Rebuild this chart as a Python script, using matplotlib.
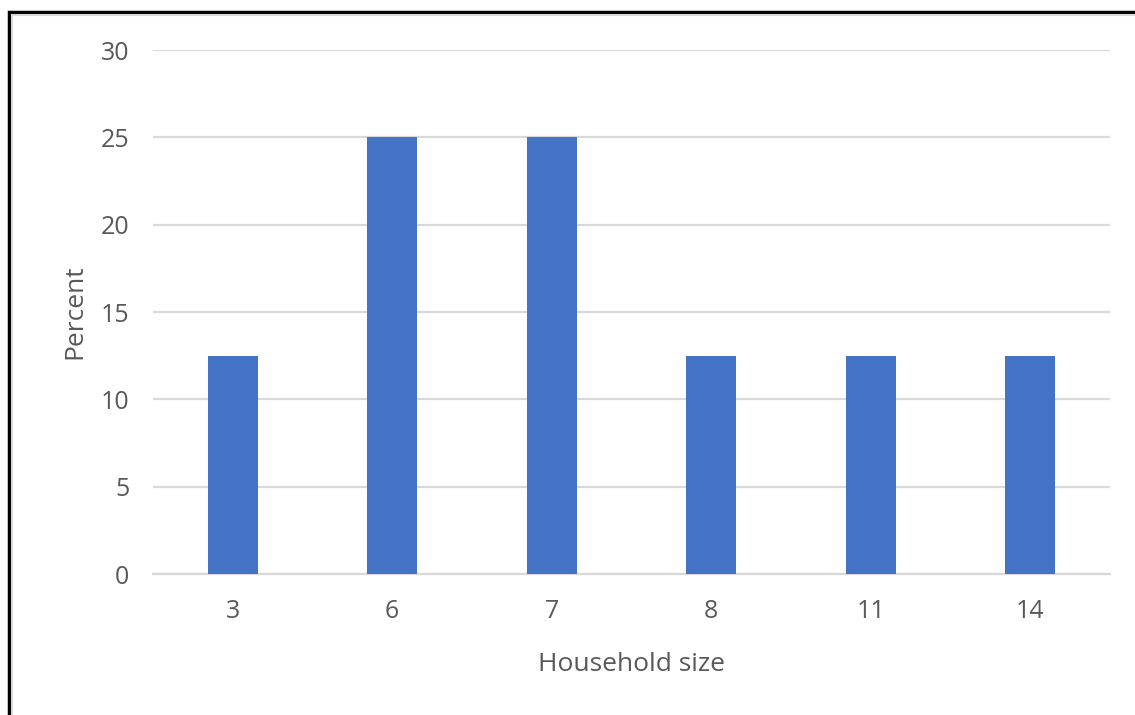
import matplotlib
matplotlib.use("Agg")
import matplotlib.pyplot as plt
from matplotlib.patches import Rectangle

categories = ["3", "6", "7", "8", "11", "14"]
percent = [12.5, 25, 25, 12.5, 12.5, 12.5]
yticks = [0, 5, 10, 15, 20, 25, 30]

plt.rcParams['font.family'] = ['Open Sans', 'DejaVu Sans']

W, H = 1135, 715
fig = plt.figure(figsize=(W/100, H/100), dpi=100)
fig.patch.set_facecolor("white")

# outer border (top-left visible, extends beyond image on right/bottom)
fig.add_artist(Rectangle((9/W, -0.05), 1.2, 1 - 12/H + 0.05, transform=fig.transFigure,
                         fill=False, edgecolor="black", linewidth=2.5))
fig.add_artist(Rectangle((12/W, -0.05), 1.2, 1 - 15/H + 0.05, transform=fig.transFigure,
                         fill=False, edgecolor="#d9d9d9", linewidth=1.5))

ax = fig.add_axes([153/W, 1 - 574/H, (1110-153)/W, (574-50)/H])
x = list(range(len(categories)))
ax.bar(x, percent, width=0.315, color="#4472C4", zorder=3)
ax.set_xlim(-0.5, len(categories) - 0.5)
ax.set_ylim(0, 30)
ax.set_yticks(yticks)
ax.set_xticks(x)
ax.set_xticklabels(categories)
ax.grid(axis="y", color="#d9d9d9", linewidth=1.6, zorder=0)
for s in ["top", "right", "left"]:
    ax.spines[s].set_visible(False)
ax.spines["bottom"].set_color("#d9d9d9")
ax.spines["bottom"].set_linewidth(1.6)
ax.tick_params(axis="both", length=0, labelsize=18, colors="#595959")
ax.tick_params(axis="y", pad=17)
ax.tick_params(axis="x", pad=18)
ax.set_xlabel("Household size", fontsize=19, color="#595959", labelpad=20)
ax.set_ylabel("Percent", fontsize=19, color="#595959", labelpad=10)

fig.savefig("out.png", dpi=100, facecolor="white")
